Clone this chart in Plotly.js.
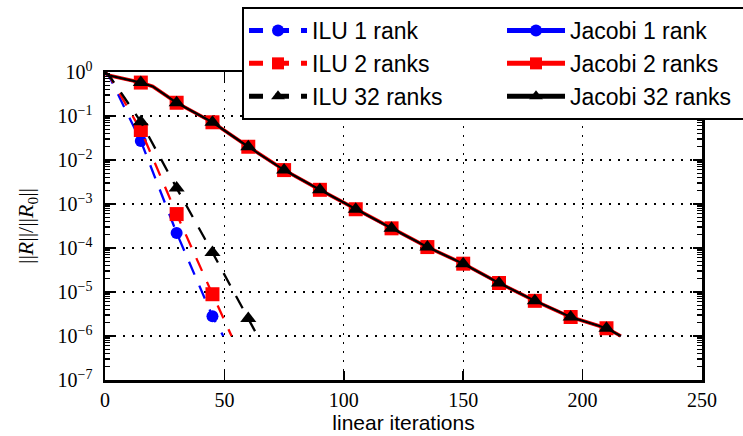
<!DOCTYPE html>
<html><head><meta charset="utf-8">
<script src="https://cdn.plot.ly/plotly-3.0.1.min.js"></script>
<style>
html,body{margin:0;padding:0;background:#fff}
#chart{width:743px;height:436px}
#chart .xtick text, #chart .ytick text, #chart .ytitle { font-family: "Liberation Serif", serif !important; }
#chart .xtitle, #chart .legendtext { font-family: "Liberation Sans", sans-serif !important; }
</style>
</head><body><div id="chart"></div>
<script>
// ---- data ----
const iluIters1  = [0, 2, 15, 30, 45, 49.5];
const ilu1Res    = [1, 0.75, 0.027, 2.2e-4, 2.8e-6, 1.0e-6];
const iluIters2  = [0, 2, 15, 30, 45, 53];
const ilu2Res    = [1, 0.78, 0.048, 5.9e-4, 8.9e-6, 1.0e-6];
const iluIters32 = [0, 2, 15, 30, 45, 60, 63.5];
const ilu32Res   = [1, 0.8, 0.074, 2.3e-3, 7.9e-5, 2.5e-6, 1.1e-6];
const jacIters   = [0, 1, 15, 20, 30, 45, 60, 75, 90, 105, 120, 135, 150, 165, 180, 195, 210, 216];
const jac1Res    = [1, 0.85, 0.575, 0.47, 0.2, 0.072, 0.02, 5.9e-3, 2.1e-3, 7.6e-4, 2.8e-4, 1.05e-4, 4.4e-5, 1.6e-5, 6.3e-6, 2.7e-6, 1.5e-6, 1.0e-6];
const jac2Res    = [1, 0.85, 0.575, 0.47, 0.2, 0.072, 0.02, 5.9e-3, 2.1e-3, 7.6e-4, 2.8e-4, 1.05e-4, 4.4e-5, 1.6e-5, 6.3e-6, 2.7e-6, 1.5e-6, 1.0e-6];
const jac32Res   = [1, 0.85, 0.575, 0.47, 0.2, 0.072, 0.02, 5.9e-3, 2.1e-3, 7.6e-4, 2.8e-4, 1.05e-4, 4.4e-5, 1.6e-5, 6.3e-6, 2.7e-6, 1.5e-6, 1.0e-6];
const seriesNames = ['ILU 1 rank', 'ILU 2 ranks', 'ILU 32 ranks', 'Jacobi 1 rank', 'Jacobi 2 ranks', 'Jacobi 32 ranks'];
const xTickVals = [0, 50, 100, 150, 200, 250];
const yTickVals = [1, 1e-1, 1e-2, 1e-3, 1e-4, 1e-5, 1e-6, 1e-7];
const yTickText = ['10<sup>0</sup>', '10<sup>\u22121</sup>', '10<sup>\u22122</sup>', '10<sup>\u22123</sup>',
                   '10<sup>\u22124</sup>', '10<sup>\u22125</sup>', '10<sup>\u22126</sup>', '10<sup>\u22127</sup>'];

// markers every 15 iterations (not at the start)
const MARK_EVERY = 15;
function markSizes(xs, s) { return xs.map(x => (x > 0 && x % MARK_EVERY === 0) ? s : 0); }

const BLUE = '#0000ff', RED = '#ff0000', BLACK = '#000000';
const DASH = '14px,12px';
const SANS = 'Liberation Sans';
const SERIF = 'Liberation Serif';

function tr(xs, ys, name, color, symbol, msize, dash, width, rank) {
  return {
    x: xs, y: ys, name: name, type: 'scatter', mode: 'lines+markers',
    line: {color: color, width: width, dash: dash},
    marker: {symbol: symbol, color: color, opacity: 1, size: markSizes(xs, msize), line: {width: 0}},
    legendrank: rank
  };
}

const traces = [
  tr(jacIters, jac1Res,  seriesNames[3], BLUE,  'circle',      12, 'solid', 2.5, 2),
  tr(jacIters, jac2Res,  seriesNames[4], RED,   'square',      14, 'solid', 3.6, 4),
  tr(jacIters, jac32Res, seriesNames[5], BLACK, 'triangle-up', 14, 'solid', 2.2, 6),
  tr(iluIters1,  ilu1Res,  seriesNames[0], BLUE,  'circle',      12, DASH, 2.3, 1),
  tr(iluIters2,  ilu2Res,  seriesNames[1], RED,   'square',      14, DASH, 2.3, 3),
  tr(iluIters32, ilu32Res, seriesNames[2], BLACK, 'triangle-up', 14, DASH, 2.3, 5)
];

const layout = {
  width: 743, height: 436,
  margin: {l: 105, r: 41, t: 72, b: 56, autoexpand: false},
  paper_bgcolor: 'white', plot_bgcolor: 'white',
  font: {family: SERIF, color: 'black'},
  showlegend: true,
  legend: {
    orientation: 'h', x: 0.2295, y: 1.211, xanchor: 'left', yanchor: 'top',
    bgcolor: 'white', bordercolor: 'black', borderwidth: 2,
    font: {family: SANS, size: 23, color: 'black'},
    itemsizing: 'constant', itemwidth: 58, entrywidth: 185
  },
  xaxis: {
    range: [0, 250], tickmode: 'array', tickvals: xTickVals,
    tickfont: {family: SERIF, size: 20, color: 'black'},
    showline: true, linewidth: 2.5, linecolor: 'black', mirror: 'allticks',
    ticks: 'inside', ticklen: 9, tickwidth: 1.5, tickcolor: 'black',
    showgrid: true, gridcolor: 'black', gridwidth: 1.3, griddash: '2px,7px',
    zeroline: false,
    title: {text: 'linear iterations', font: {family: SANS, size: 21, color: 'black'}, standoff: 6}
  },
  yaxis: {
    type: 'log', range: [-7, 0], tickmode: 'array', tickvals: yTickVals, ticktext: yTickText,
    tickfont: {family: SERIF, size: 20, color: 'black'}, ticklabelstandoff: 6,
    showline: true, linewidth: 2.5, linecolor: 'black', mirror: 'allticks',
    ticks: 'inside', ticklen: 9, tickwidth: 1.5, tickcolor: 'black',
    showgrid: true, gridcolor: 'black', gridwidth: 1.3, griddash: '2px,7px',
    zeroline: false,
    minor: {dtick: 'D1', ticks: 'inside', ticklen: 5, tickwidth: 1.3, tickcolor: 'black', showgrid: false},
    title: {text: '||<i>R</i>||/||<i>R</i><sub>0</sub>||', font: {family: SERIF, size: 22, color: 'black'}, standoff: 18}
  }
};

Plotly.newPlot('chart', traces, layout, {staticPlot: true, displayModeBar: false});
</script>
</body></html>
